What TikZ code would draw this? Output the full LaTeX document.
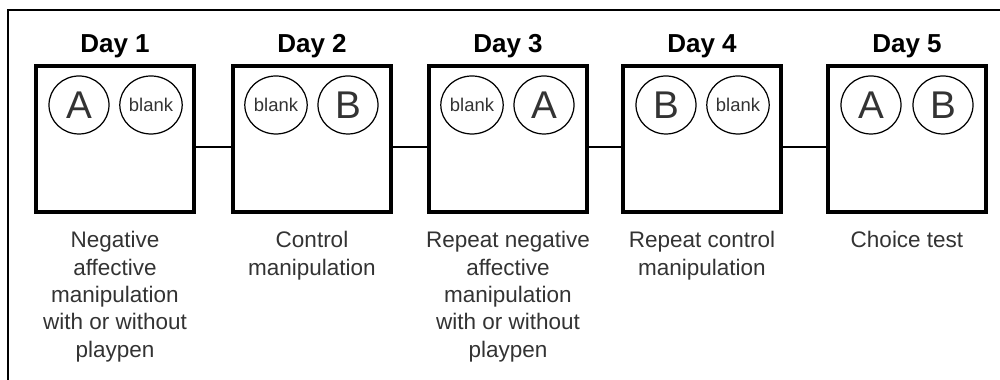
\documentclass[tikz,border=0pt]{standalone}
\usepackage{fontspec}
\setmainfont{Liberation Sans}
\usetikzlibrary{shapes.geometric}

\newcommand{\blankdish}{{\fontsize{10.5}{12}\selectfont blank}}

\tikzset{
  daybox/.style={draw, line width=2.3pt, minimum width=3.16cm, minimum height=2.92cm},
  dish/.style={draw, ellipse, line width=0.7pt, minimum width=1.2cm, minimum height=1.16cm,
    inner sep=0pt, text=black!80, font=\fontsize{22}{26}\selectfont},
  daytitle/.style={anchor=base, inner sep=0pt, font=\fontsize{14.8}{18}\selectfont\bfseries},
  note/.style={anchor=north, inner sep=0pt, align=center, text=black!80,
    font=\fontsize{12.8}{15.6}\selectfont},
  link/.style={line width=0.8pt}
}

\begin{document}
\begin{tikzpicture}
  \useasboundingbox (0,0) rectangle (20,7.6);
  % frame, open to the right and bottom
  \draw[line width=1.1pt] (0.16,0) -- (0.16,7.4) -- (20,7.4);

  \foreach \x/\l/\r/\txt [count=\i] in {
      2.30/A/\blankdish/{Negative\\affective\\manipulation\\with or without\\playpen},
      6.24/\blankdish/B/{Control\\manipulation},
      10.16/\blankdish/A/{Repeat negative\\affective\\manipulation\\with or without\\playpen},
      14.04/B/\blankdish/{Repeat control\\manipulation},
      18.14/A/B/{Choice test}} {
    \node[daybox] (day\i) at (\x,4.82) {};
    \node[daytitle] (t\i) at (\x,6.54) {Day \i};
    \node[dish] (l\i) at (\x-0.72,5.5) {\l};
    \node[dish] (r\i) at (\x+0.72,5.5) {\r};
    \node[note] (n\i) at (\x,2.98) {\txt};
  }

  \draw[link] ([yshift=-0.16cm]day1.east) -- ([yshift=-0.16cm]day2.west);
  \draw[link] ([yshift=-0.16cm]day2.east) -- ([yshift=-0.16cm]day3.west);
  \draw[link] ([yshift=-0.16cm]day3.east) -- ([yshift=-0.16cm]day4.west);
  \draw[link] ([yshift=-0.16cm]day4.east) -- ([yshift=-0.16cm]day5.west);
\end{tikzpicture}
\end{document}
